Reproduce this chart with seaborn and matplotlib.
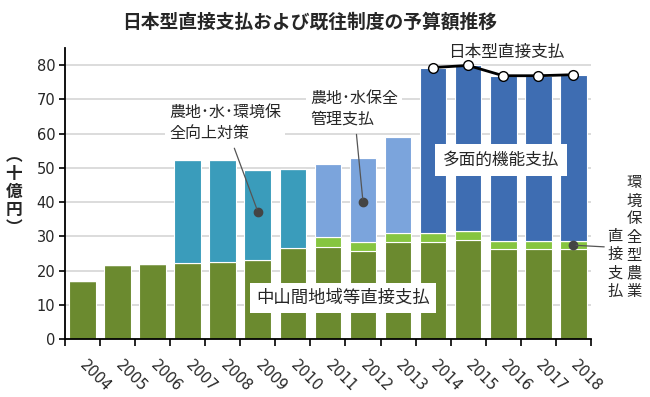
import numpy as np
import pandas as pd
import seaborn as sns
import matplotlib.pyplot as plt

# 予算額（十億円）
years = [str(y) for y in range(2004, 2019)]
chusankan = [16.8, 21.5, 22.0, 22.2, 22.4, 23.2, 26.5, 26.9, 25.8, 28.3, 28.3, 29.0, 26.2, 26.2, 26.2]
kankyo_hozen = [0, 0, 0, 0, 0, 0, 0, 2.9, 2.6, 2.7, 2.7, 2.6, 2.5, 2.5, 2.5]
nochi_kojo = [0, 0, 0, 30.0, 30.0, 26.1, 23.3, 0, 0, 0, 0, 0, 0, 0, 0]
nochi_hozen = [0, 0, 0, 0, 0, 0, 0, 21.2, 24.5, 27.9, 0, 0, 0, 0, 0]
tamenteki = [0, 0, 0, 0, 0, 0, 0, 0, 0, 0, 48.3, 48.3, 48.2, 48.2, 48.5]
line_years = ['2014', '2015', '2016', '2017', '2018']
nihongata = [79.3, 79.9, 76.9, 76.9, 77.2]

df = pd.DataFrame({'year': years, 'chusankan': chusankan, 'kankyo': kankyo_hozen,
                   'kojo': nochi_kojo, 'hozen': nochi_hozen, 'tamenteki': tamenteki})

sns.set_theme(style='white')
plt.rcParams['font.family'] = ['Noto Sans CJK JP', 'DejaVu Sans']

fig = plt.figure(figsize=(6.5, 3.97), dpi=100)
ax = fig.add_axes([0.1, 0.1461, 0.809, 0.733])

layers = [('chusankan', '#6b8a2f'), ('kankyo', '#86c540'), ('kojo', '#3a9cbb'),
          ('hozen', '#7ba4dc'), ('tamenteki', '#3e6db2')]
bottom = np.zeros(len(years))
for col, color in layers:
    sns.barplot(data=df, x='year', y=col, order=years, color=color, saturation=1, width=0.76,
                bottom=bottom, edgecolor='white', linewidth=0.8, ax=ax)
    bottom = bottom + df[col].values

# 日本型直接支払の合計線
pos = [years.index(y) for y in line_years]
sns.lineplot(x=pos, y=nihongata, color='black', lw=2, marker='o', markersize=7,
             markerfacecolor='white', markeredgecolor='black', markeredgewidth=1, ax=ax)

ax.set_xlim(-0.5, len(years) - 0.5)
ax.set_ylim(0, 85)
ax.set_yticks(range(0, 81, 10))
ax.yaxis.grid(True, color='#d9d9d9', lw=1.3)
ax.set_axisbelow(True)
for s in ['top', 'right']:
    ax.spines[s].set_visible(False)
for s in ['left', 'bottom']:
    ax.spines[s].set_color('black')
    ax.spines[s].set_linewidth(1.3)
ax.set_xlabel('')
ax.set_ylabel('')

ax.set_xticks(range(len(years)))
ax.set_xticklabels(years, rotation=-45, ha='left', va='center', rotation_mode='anchor',
                   family='DejaVu Sans', fontsize=10.5)
ax.set_xticks(np.arange(-0.5, len(years), 1), minor=True)
ax.tick_params(axis='x', which='major', length=0, pad=17)
ax.tick_params(axis='x', which='minor', length=5, width=1.2, direction='out', color='black', bottom=True)
ax.tick_params(axis='y', length=4, width=1.2, direction='out', color='black', left=True, pad=3)
for t in ax.get_yticklabels():
    t.set_family('DejaVu Sans')
    t.set_fontsize(10.5)

fig.text(0.477, 1 - 22 / 397, '日本型直接支払および既往制度の予算額推移', ha='center', va='center',
         fontsize=13.5, fontweight='bold')
fig.text(14 / 650, 1 - 192 / 397, '︵\n十\n億\n円\n︶', ha='center', va='center',
         fontsize=12, fontweight='bold', linespacing=1.0)

box = dict(boxstyle='square,pad=0.25', fc='white', ec='none')
dot = dict(arrowstyle='-', color='#555555', lw=0.9)

def px(x, y):
    return (x, 397 - y)

ax.annotate('農地･水･環境保\n全向上対策', xy=(5, 37.2), xytext=px(169, 123),
            textcoords='figure pixels', ha='left', va='center', fontsize=11.5,
            linespacing=1.25, bbox=box, arrowprops=dot)
ax.annotate('農地･水保全\n管理支払', xy=(8, 40.1), xytext=px(310, 109),
            textcoords='figure pixels', ha='left', va='center', fontsize=11.5,
            linespacing=1.25, bbox=box, arrowprops=dot)
ax.annotate('', xy=(14, 27.4), xytext=px(607, 247), textcoords='figure pixels',
            arrowprops=dot)
ax.plot([5, 8, 14], [37.2, 40.1, 27.4], 'o', color='#444444', markersize=6, ls='none')

fig.text(506 / 650, 1 - 52 / 397, '日本型直接支払', ha='center', va='center', fontsize=12)
fig.text(501 / 650, 1 - 160 / 397, '多面的機能支払', ha='center', va='center', fontsize=12,
         bbox=dict(boxstyle='square,pad=0.45', fc='white', ec='none'))
fig.text(343 / 650, 1 - 298 / 397, '中山間地域等直接支払', ha='center', va='center', fontsize=12.5,
         bbox=dict(boxstyle='square,pad=0.35', fc='white', ec='none'))
fig.text(634 / 650, 1 - 237 / 397, '\n'.join('環境保全型農業'), ha='center', va='center',
         fontsize=11, linespacing=1.08)
fig.text(615 / 650, 1 - 264 / 397, '\n'.join('直接支払'), ha='center', va='center',
         fontsize=11, linespacing=1.08)

fig.savefig('out.png', dpi=100)
